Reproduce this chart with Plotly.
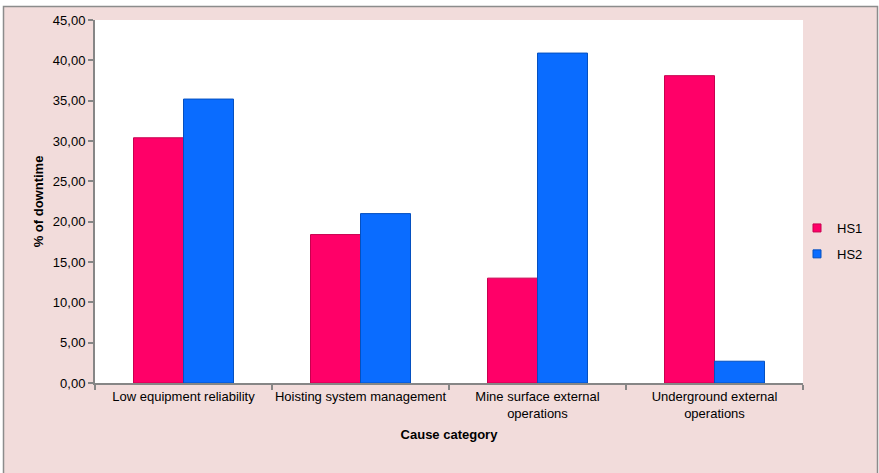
import plotly.graph_objects as go

categories = ["Low equipment reliability", "Hoisting system management",
              "Mine surface external<br>operations", "Underground external<br>operations"]
hs1 = [30.4, 18.4, 13.0, 38.1]
hs2 = [35.2, 21.0, 40.9, 2.7]
y_ticks = [0, 5, 10, 15, 20, 25, 30, 35, 40, 45]

FONT = "Liberation Sans, Arial, sans-serif"
C1, C1L = "#ff0068", "#c8004f"
C2, C2L = "#0a6cff", "#0550c0"

fig = go.Figure()
fig.add_trace(go.Bar(name="HS1", x=categories, y=hs1, showlegend=False,
                     marker=dict(color=C1, line=dict(color=C1L, width=1))))
fig.add_trace(go.Bar(name="HS2", x=categories, y=hs2, showlegend=False,
                     marker=dict(color=C2, line=dict(color=C2L, width=1))))
# legend entries with small square keys
fig.add_trace(go.Scatter(name="HS1", x=[None], y=[None], mode="markers", legendgroup="a",
                         marker=dict(symbol="square", size=8, color=C1, line=dict(color=C1L, width=1))))
fig.add_trace(go.Scatter(name="HS2", x=[None], y=[None], mode="markers", legendgroup="b",
                         marker=dict(symbol="square", size=8, color=C2, line=dict(color=C2L, width=1))))

W, H = 879, 473
L, R, T, B = 95, 76, 20, 90
pw, ph = W - L - R, H - T - B

def px(x):
    return (x - L) / pw

def py(y):
    return (H - B - y) / ph

fig.update_layout(
    width=W, height=H,
    margin=dict(l=L, r=R, t=T, b=B, pad=0, autoexpand=False),
    paper_bgcolor="white",
    plot_bgcolor="white",
    barmode="group",
    bargap=0.435,
    bargroupgap=0,
    font=dict(family=FONT, size=13, color="#000000"),
    showlegend=True,
    legend=dict(xref="container", yref="container",
                x=797 / W, y=1 - 213 / H, xanchor="left", yanchor="top",
                bgcolor="rgba(0,0,0,0)", font=dict(size=13),
                traceorder="grouped", tracegroupgap=6, itemwidth=30),
    shapes=[dict(type="rect", xref="paper", yref="paper",
                 x0=px(3.5), x1=px(877.5), y0=py(480), y1=py(6.5),
                 fillcolor="#f2dcdb", line=dict(color="#8c8c8c", width=1.5),
                 layer="below"),
            dict(type="rect", xref="paper", yref="paper",
                 x0=0, x1=1, y0=0, y1=1,
                 fillcolor="white", line=dict(width=0), layer="below")],
    xaxis=dict(
        automargin=False, tickangle=0,
        showline=True, linecolor="#868686", linewidth=2,
        ticks="outside", tickson="boundaries", ticklen=5, tickcolor="#868686", tickwidth=2,
        showgrid=False, tickfont=dict(size=13),
        title=dict(text="<b>Cause category</b>", font=dict(size=13), standoff=10),
    ),
    yaxis=dict(
        automargin=False,
        range=[0, 45], tickvals=y_ticks, tickformat=".2f",
        showline=True, linecolor="#868686", linewidth=2,
        ticks="outside", ticklen=5, tickcolor="#868686", tickwidth=2,
        showgrid=False, zeroline=False, tickfont=dict(size=13),
        title=dict(text="<b>% of downtime</b>", font=dict(size=13), standoff=6),
    ),
    separators=", ",
)

fig.write_html("out.html", config={"displayModeBar": False},
               post_script="document.body.style.margin='0';")
